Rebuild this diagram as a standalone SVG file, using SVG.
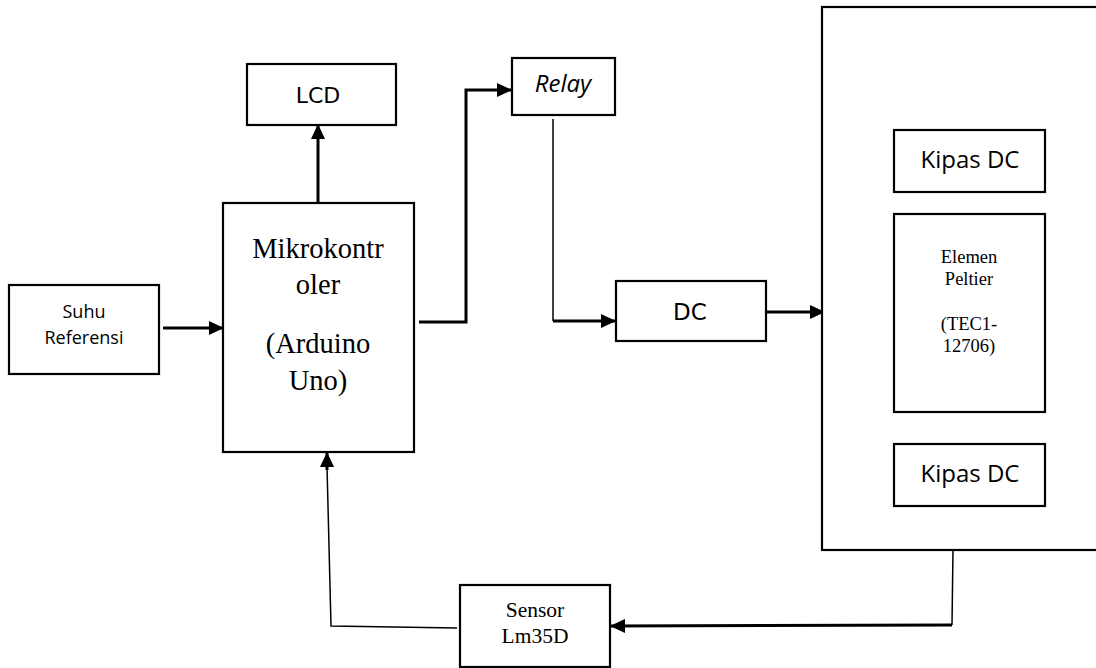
<svg xmlns="http://www.w3.org/2000/svg" width="1096" height="668" viewBox="0 0 1096 668">
<style>
.box{fill:#fff;stroke:#000;stroke-width:2.2}
.sans{font-family:"Open Sans","Liberation Sans",sans-serif;fill:#000;text-anchor:middle}
.dv{font-family:"DejaVu Sans","Liberation Sans",sans-serif;fill:#000;text-anchor:middle}
.serif{font-family:"Liberation Serif","Times New Roman",serif;fill:#000;text-anchor:middle}
.thick{fill:none;stroke:#000;stroke-width:3}
.thin{fill:none;stroke:#000;stroke-width:1.5}
</style>
<defs>
<marker id="ah" markerUnits="userSpaceOnUse" markerWidth="15" markerHeight="14" refX="15" refY="7" orient="auto">
<path d="M0,0 L15,7 L0,14 z" fill="#000"/>
</marker>
</defs>
<rect width="1096" height="668" fill="#fff"/>
<g id="connectors">
<path class="thick" d="M163,328 H224" marker-end="url(#ah)"/>
<path class="thick" d="M318,203 V124" marker-end="url(#ah)"/>
<path class="thick" d="M419,322 H466 V90 H512" marker-end="url(#ah)"/>
<path class="thin" d="M553,119 V321"/>
<path class="thick" d="M553,321 H616" marker-end="url(#ah)"/>
<path class="thick" d="M766,312 H825" marker-end="url(#ah)"/>
<path class="thin" d="M953,550 L952,625"/>
<path class="thick" d="M952,625 L610,626" marker-end="url(#ah)"/>
<path class="thin" d="M457,628 L331,626 L327,466"/>
<path class="thick" d="M327,470 V452" marker-end="url(#ah)"/>
</g>
<g id="suhu">
<rect class="box" x="9" y="285" width="150" height="89"/>
<text class="sans" x="84" y="318" font-size="18">Suhu</text>
<text class="sans" x="84" y="344" font-size="18">Referensi</text>
</g>
<g id="mikro">
<rect class="box" x="223" y="203" width="191" height="249"/>
<text class="serif" x="318" y="258" font-size="28.5">Mikrokontr</text>
<text class="serif" x="318" y="294" font-size="28.5">oler</text>
<text class="serif" x="318" y="353" font-size="28.5">(Arduino</text>
<text class="serif" x="318" y="390" font-size="28.5">Uno)</text>
</g>
<g id="lcd">
<rect class="box" x="247" y="64" width="149" height="61"/>
<text class="dv" x="318" y="103" font-size="22">LCD</text>
</g>
<g id="relay">
<rect class="box" x="512" y="58" width="103" height="57"/>
<text class="sans" x="563" y="92" font-size="24" font-style="italic">Relay</text>
</g>
<g id="dc">
<rect class="box" x="616" y="281" width="150" height="60"/>
<text class="dv" x="690" y="320" font-size="23">DC</text>
</g>
<g id="enclosure">
<rect class="box" x="822" y="7" width="290" height="543"/>
</g>
<g id="kipas1">
<rect class="box" x="894" y="130" width="151" height="62"/>
<text class="sans" x="970" y="168" font-size="24">Kipas DC</text>
</g>
<g id="peltier">
<rect class="box" x="894" y="214" width="151" height="198"/>
<text class="serif" x="969" y="263" font-size="18.5">Elemen</text>
<text class="serif" x="969" y="285" font-size="18.5">Peltier</text>
<text class="serif" x="969" y="330" font-size="18.5">(TEC1-</text>
<text class="serif" x="969" y="352" font-size="18.5">12706)</text>
</g>
<g id="kipas2">
<rect class="box" x="894" y="444" width="151" height="62"/>
<text class="sans" x="970" y="482" font-size="24">Kipas DC</text>
</g>
<g id="sensor">
<rect class="box" x="460" y="585" width="150" height="82"/>
<text class="serif" x="535" y="617" font-size="21.5">Sensor</text>
<text class="serif" x="535" y="643" font-size="21.5">Lm35D</text>
</g>
</svg>
